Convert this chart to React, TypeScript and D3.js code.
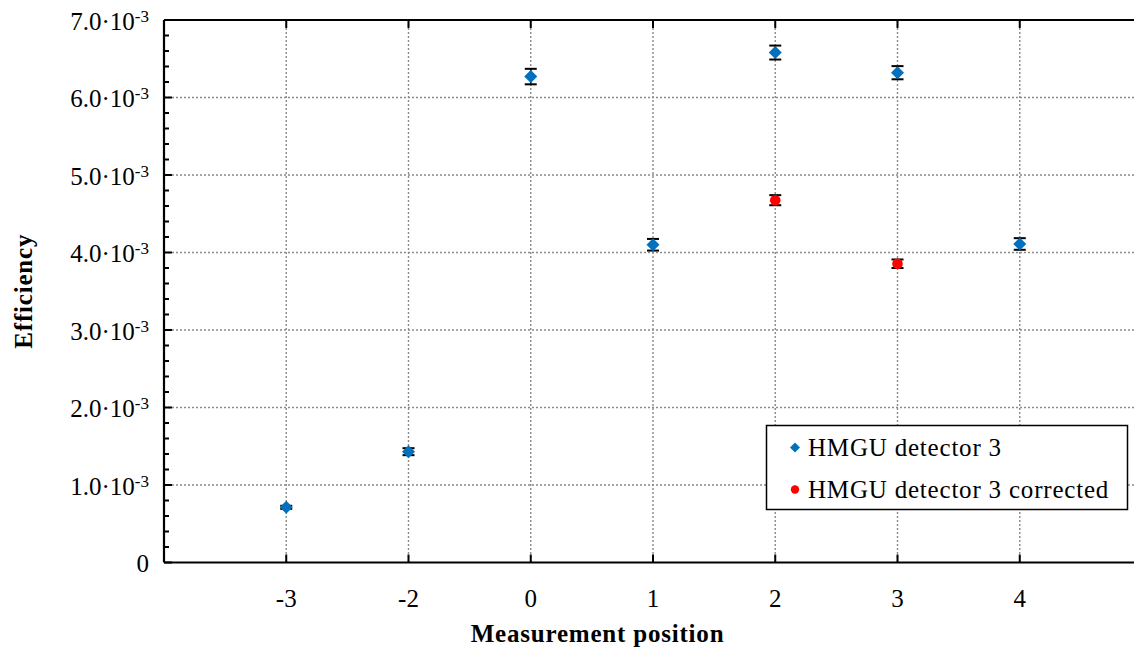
import React from "react";
import * as d3 from "d3";

const categories = ["-3", "-2", "0", "1", "2", "3", "4"];
const detectorValues = [0.712e-3, 1.43e-3, 6.27e-3, 4.1e-3, 6.58e-3, 6.32e-3, 4.11e-3];
const detectorErrors = [0.02e-3, 0.045e-3, 0.1e-3, 0.075e-3, 0.09e-3, 0.085e-3, 0.075e-3];
const correctedCategories = ["2", "3"];
const correctedValues = [4.675e-3, 3.855e-3];
const correctedErrors = [0.065e-3, 0.055e-3];
const yTickValues = [0, 1e-3, 2e-3, 3e-3, 4e-3, 5e-3, 6e-3, 7e-3];
const yTickMantissas = ["0", "1.0", "2.0", "3.0", "4.0", "5.0", "6.0", "7.0"];
const legendLabels = ["HMGU detector 3", "HMGU detector 3 corrected"];

const W = 1134;
const H = 648;
const L = 164;
const R = 1142;
const T = 20;
const B = 562.5;
const BLUE = "#0070C0";
const RED = "#FF0000";
const FONT = "'Liberation Serif', 'Times New Roman', serif";
const FS = 25;
const LS = 0.8;

export default function App() {
  const x = d3.scalePoint<string>().domain(categories).range([L, R]).padding(1);
  const y = d3.scaleLinear().domain([0, 7e-3]).range([B, T]);
  const minor = d3.range(0, 35).map((i) => i * 0.2e-3).filter((v, i) => i % 5 !== 0);
  const diamond = (cx: number, cy: number, r: number) =>
    `M${cx},${cy - r}L${cx + r},${cy}L${cx},${cy + r}L${cx - r},${cy}Z`;

  const errBar = (cx: number, v: number, e: number, key: string) => (
    <g key={key} stroke="#000" strokeWidth={2}>
      <line x1={cx} x2={cx} y1={y(v + e)} y2={y(v - e)} strokeWidth={1.5} />
      <line x1={cx - 6} x2={cx + 6} y1={y(v + e)} y2={y(v + e)} />
      <line x1={cx - 6} x2={cx + 6} y1={y(v - e)} y2={y(v - e)} />
    </g>
  );

  return (
    <svg width={W} height={H} style={{ position: "absolute", left: 0, top: 0, background: "#fff" }} fontFamily={FONT}>
      <rect x={0} y={0} width={W} height={H} fill="#fff" />
      {/* grid */}
      <g stroke="#8a8a8a" strokeWidth={1.4} strokeDasharray="2,2">
        {yTickValues.slice(1, -1).map((v) => (
          <line key={"gy" + v} x1={L} x2={R} y1={y(v)} y2={y(v)} />
        ))}
        {categories.map((c) => (
          <line key={"gx" + c} x1={x(c)} x2={x(c)} y1={T} y2={B} />
        ))}
      </g>
      {/* frame */}
      <g stroke="#000" strokeWidth={2.2} fill="none">
        <line x1={L} x2={R} y1={T} y2={T} />
        <line x1={L} x2={R} y1={B} y2={B} />
        <line x1={L} x2={L} y1={T} y2={B} />
        <line x1={R} x2={R} y1={T} y2={B} />
      </g>
      {/* ticks */}
      <g stroke="#000" strokeWidth={2}>
        {categories.map((c) => (
          <g key={"tx" + c}>
            <line x1={x(c)} x2={x(c)} y1={B} y2={B - 8} />
            <line x1={x(c)} x2={x(c)} y1={T} y2={T + 8} />
          </g>
        ))}
        {yTickValues.map((v) => (
          <line key={"ty" + v} x1={L} x2={L + 8} y1={y(v)} y2={y(v)} />
        ))}
        {minor.map((v) => (
          <line key={"tm" + v} x1={L} x2={L + 5} y1={y(v)} y2={y(v)} />
        ))}
      </g>
      {/* tick labels */}
      <g fontSize={FS} fill="#000">
        {categories.map((c) => (
          <text key={"lx" + c} x={x(c)} y={606.5} textAnchor="middle">{c}</text>
        ))}
        {yTickValues.map((v, i) => (
          <text key={"ly" + v} x={149} y={y(v) + 9.5} textAnchor="end">
            {i === 0 ? (
              "0"
            ) : (
              <>
                {yTickMantissas[i]}·10
                <tspan fontSize={17} dy={-8}>-3</tspan>
              </>
            )}
          </text>
        ))}
      </g>
      {/* axis titles */}
      <text x={597.5} y={642} textAnchor="middle" fontSize={FS} fontWeight="bold" letterSpacing={LS}>
        Measurement position
      </text>
      <text
        transform={`translate(32,${(T + B) / 2}) rotate(-90)`}
        textAnchor="middle"
        fontSize={FS}
        fontWeight="bold"
        letterSpacing={LS}
      >
        Efficiency
      </text>
      {/* data */}
      {categories.map((c, i) => errBar(x(c)!, detectorValues[i], detectorErrors[i], "eb" + c))}
      {categories.map((c, i) => (
        <path key={"d" + c} d={diamond(x(c)!, y(detectorValues[i]), 6.5)} fill={BLUE} />
      ))}
      {correctedCategories.map((c, i) => errBar(x(c)!, correctedValues[i], correctedErrors[i], "ec" + c))}
      {correctedCategories.map((c, i) => (
        <circle key={"c" + c} cx={x(c)} cy={y(correctedValues[i])} r={5.3} fill={RED} />
      ))}
      {/* legend */}
      <rect x={766.5} y={425.5} width={361} height={84} fill="#fff" stroke="#000" strokeWidth={1.5} />
      <path d={diamond(795, 447.5, 5)} fill={BLUE} />
      <circle cx={795} cy={489.5} r={4.2} fill={RED} />
      <text x={808} y={456} fontSize={FS} letterSpacing={LS}>{legendLabels[0]}</text>
      <text x={808} y={497.5} fontSize={FS} letterSpacing={LS}>{legendLabels[1]}</text>
    </svg>
  );
}
